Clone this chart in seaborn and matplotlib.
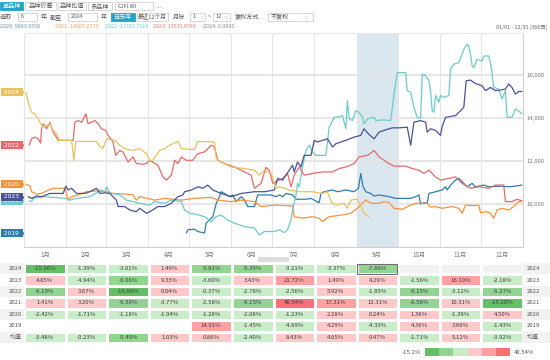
import numpy as np
import pandas as pd
import seaborn as sns
import matplotlib.pyplot as plt
from matplotlib.colors import ListedColormap
from matplotlib.patches import Rectangle
from matplotlib.transforms import blended_transform_factory

sns.set_theme(style="white")
plt.rcParams["font.family"] = ["Noto Sans CJK SC", "DejaVu Sans"]

W, H = 550, 360

## Line data: day of year / index level
day_2024 = [1.5, 3.1, 5.6, 8.0, 11.7, 13.9, 16.6, 19.0, 21.4, 23.9, 25.8, 34.9, 36.6, 38.0, 53.2,
            55.6, 57.8, 60.5, 66.6, 70.2, 73.9, 79.7, 84.9, 89.8, 92.2, 94.4, 99.5, 103.1, 106.8,
            112.9, 115.4, 125.1, 127.5, 139.7, 141.0, 144.6, 151.9, 161.7, 169.0, 172.6, 176.3,
            181.2, 184.9, 187.3, 194.6, 201.9, 211.4, 218.7, 222.4, 226.0, 229.7, 234.8, 237.0,
            239.9, 244.3, 247.3, 249.4, 253.1]
val_2024 = [15190, 14730, 14260, 14190, 13800, 13570, 13650, 13730, 13420, 13270, 12960, 12960,
            12030, 12910, 12910, 12680, 12570, 13030, 12960, 12730, 12570, 12490, 12570, 12340,
            12030, 12030, 12490, 12570, 12730, 12910, 12570, 12530, 12910, 12880, 12110, 11950,
            11720, 11650, 11570, 11340, 11570, 11420, 10730, 10800, 10650, 10570, 10570, 10490,
            10570, 10030, 9950, 10030, 9800, 10180, 10220, 9880, 9570, 9410]

day_2022 = [3.7, 5.6, 8.0, 10.5, 12.2, 12.9, 14.1, 16.6, 19.0, 21.4, 25.1, 36.1, 37.3, 39.7, 42.2,
            45.4, 47.0, 49.5, 51.9, 54.4, 56.8, 60.0, 61.7, 65.3, 67.3, 70.2, 72.6, 76.3, 80.0,
            82.4, 87.3, 89.8, 92.2, 98.2, 101.9, 104.4, 108.0, 110.5, 112.9, 115.4, 119.0, 123.8,
            127.5, 132.4, 134.8, 137.3, 139.7, 142.1, 147.0, 154.3, 161.7, 166.6, 169.0, 173.9,
            177.5, 180.0, 182.4, 189.7, 193.3, 195.8, 198.2, 201.9, 205.5, 211.6, 218.9, 226.3,
            231.2, 236.1, 242.1, 245.8, 251.9, 256.8, 260.4, 267.7, 271.4, 279.9, 284.8, 289.7,
            293.3, 297.0, 301.9, 305.5, 311.6, 316.5, 321.4, 327.5, 333.6, 340.9, 345.8, 351.9,
            353.1, 357.9, 361.6, 365.2]
val_2022 = [12730, 13030, 13110, 13030, 12830, 13500, 13730, 13500, 13800, 13340, 12960, 12960,
            13800, 13880, 13800, 14190, 13730, 13800, 13880, 13730, 13500, 13420, 13190, 12880,
            12260, 12490, 12420, 11950, 12190, 11880, 11850, 11880, 12030, 11800, 11260, 11110,
            11340, 12030, 11880, 12190, 12030, 12030, 12340, 12420, 12570, 12730, 12650, 12030,
            11880, 11720, 11490, 11340, 10730, 10960, 11700, 11570, 10960, 11190, 11420, 10800,
            11340, 11720, 11340, 11420, 11490, 11490, 11650, 11720, 11880, 12190, 12260, 12490,
            12190, 11880, 11760, 11760, 11650, 11570, 11420, 11570, 11260, 11110, 11190, 11260,
            10960, 10730, 10800, 10730, 10880, 10880, 10110, 10110, 10220, 10150]

day_2023 = [3.1, 5.6, 9.3, 12.9, 19.0, 28.7, 30.7, 32.4, 34.9, 38.5, 44.6, 48.3, 53.2, 55.6, 59.3,
            62.9, 67.8, 69.0, 73.9, 77.5, 82.4, 84.9, 89.8, 92.2, 98.2, 103.1, 108.0, 112.9, 116.5,
            117.8, 122.7, 127.5, 131.2, 134.8, 138.5, 144.6, 151.9, 159.3, 169.0, 176.3, 183.6,
            186.0, 189.7, 197.0, 198.2, 200.6, 203.1, 205.5, 210.5, 212.9, 215.3, 218.9, 222.6,
            226.3, 228.7, 236.1, 242.1, 247.0, 249.4, 253.1, 256.8, 260.4, 265.3, 270.1, 275.0,
            281.1, 283.6, 286.0, 290.9, 294.6, 295.7, 298.2, 301.9, 305.5, 306.7, 309.2, 316.5,
            320.2, 322.6, 324.3, 327.5, 331.1, 336.0, 338.5, 342.1, 345.8, 349.4, 353.1, 355.5,
            357.9, 360.4, 362.8, 365.2]
val_2023 = [10340, 10260, 10370, 10340, 10490, 10490, 10830, 10650, 10730, 10490, 10490, 10570,
            10730, 10490, 10520, 10490, 10180, 9880, 9880, 9720, 9640, 9800, 9570, 9640, 9880,
            9880, 10030, 10340, 10420, 10570, 10650, 10800, 10730, 10880, 10650, 10490, 10340,
            10490, 10570, 10570, 10650, 11190, 11110, 11800, 11490, 11950, 11720, 12260, 12260,
            12960, 12880, 12960, 13030, 12650, 12800, 12960, 13110, 13190, 13500, 13230, 13030,
            13340, 13450, 13540, 13540, 13570, 12730, 13800, 13880, 13800, 13340, 13500, 13420,
            13190, 13600, 14030, 14110, 14340, 14500, 15730, 15760, 15600, 15500, 15270, 15420,
            15270, 15300, 15340, 15580, 15420, 15110, 15230, 15230]

day_2021 = [3.9, 5.6, 6.8, 14.1, 21.4, 30.0, 33.6, 38.5, 48.3, 53.2, 55.6, 59.3, 60.5, 62.9, 70.2,
            75.1, 80.0, 84.9, 92.2, 95.8, 103.1, 108.0, 115.4, 117.8, 121.4, 125.1, 132.4, 137.3,
            141.0, 144.6, 149.4, 154.3, 161.7, 169.0, 172.6, 176.3, 183.6, 187.3, 190.9, 193.3,
            195.8, 197.0, 199.5, 200.6, 201.9, 204.3, 206.8, 209.2, 211.6, 214.1, 221.4, 222.6,
            223.8, 225.1, 227.5, 231.2, 233.6, 236.1, 237.2, 238.5, 240.9, 243.4, 245.8, 248.2,
            249.4, 251.9, 256.8, 258.0, 262.8, 269.0, 271.4, 273.8, 279.9, 281.1, 283.6, 286.0,
            288.4, 290.9, 292.1, 294.6, 297.0, 298.2, 299.4, 300.6, 301.9, 304.3, 305.5, 308.0,
            311.6, 312.9, 315.3, 318.9, 322.6, 325.0, 326.2, 327.5, 328.7, 329.9, 332.3, 336.0,
            337.2, 340.9, 342.8, 344.5, 348.2, 350.6, 353.1, 354.3, 357.9, 360.4, 364.1, 365.2]
val_2021 = [10150, 10110, 10260, 10340, 10310, 10260, 10180, 10260, 10340, 10520, 10650, 10570,
            10800, 10520, 10420, 10180, 10110, 10030, 9950, 10110, 10030, 10180, 10110, 9720, 9570,
            9540, 9410, 9180, 9410, 9490, 9260, 9110, 8950, 8880, 8570, 8720, 8720, 8800, 8670,
            8800, 9260, 9720, 10420, 10960, 10800, 11720, 12490, 12730, 12420, 12260, 12260, 12880,
            13570, 13730, 14030, 14060, 14110, 13500, 14800, 13960, 13880, 14340, 14260, 14030,
            13730, 13960, 14030, 13880, 13910, 13880, 15110, 16110, 16110, 15270, 15190, 14500,
            14030, 14000, 16040, 15960, 15730, 15270, 14340, 14260, 15040, 14730, 15040, 14960,
            15040, 16270, 16500, 16570, 17190, 17420, 17350, 16960, 16420, 16340, 16730, 16650,
            16880, 16880, 16340, 15420, 15340, 14880, 15270, 14030, 14030, 14420, 14260, 14190]

day_2020 = [1.5, 4.4, 5.6, 9.3, 12.9, 16.6, 21.4, 30.0, 32.4, 34.9, 39.7, 45.9, 53.2, 60.5, 65.3,
            75.1, 80.0, 82.4, 84.9, 95.8, 103.1, 115.4, 125.1, 137.3, 142.1, 151.9, 159.3, 169.0,
            173.9, 183.6, 197.0, 198.2, 204.3, 211.6, 216.5, 218.9, 223.8, 233.6, 239.7, 244.5,
            248.2, 250.7, 254.3, 260.4, 264.1, 267.7, 271.4, 277.5, 282.4, 287.3, 295.7, 298.2,
            301.9, 306.7, 314.0, 318.9, 321.4, 323.8, 329.9, 333.6, 334.8, 339.7, 342.1, 344.5,
            347.0, 350.6, 355.5, 359.2, 362.8, 365.2]
val_2020 = [10920, 10830, 10570, 10460, 10490, 10610, 10730, 10730, 10180, 10340, 10420, 10570,
            10610, 10570, 10490, 10460, 10420, 10180, 10340, 10180, 10260, 10180, 10260, 10310,
            10180, 10110, 10180, 10110, 9880, 9950, 9910, 9410, 9340, 9410, 9340, 9180, 9410,
            9490, 9570, 9800, 10030, 10180, 10030, 10030, 10110, 10060, 9800, 9750, 9920, 10030,
            10030, 9850, 9880, 9800, 9880, 9800, 9570, 9950, 9920, 9950, 9600, 9640, 9570, 9340,
            9720, 9800, 9720, 9880, 10110, 10110]

day_2019 = [119.0, 120.2, 125.1, 127.5, 132.4, 133.6, 136.1, 138.5, 141.0, 143.4, 144.6, 147.0,
            150.7, 153.1, 155.6, 159.3, 161.7, 164.1, 169.0, 171.4, 181.2, 184.9, 187.3, 189.7,
            192.2, 197.0, 199.5, 206.8, 210.5, 216.5, 217.8, 220.2, 226.3, 229.9, 236.1, 242.1,
            245.3, 247.0, 248.7, 250.7, 254.3, 256.8, 260.4, 267.7, 272.6, 283.6, 287.3, 289.7,
            290.9, 293.3, 295.7, 297.0, 301.9, 306.7, 309.2, 310.4, 312.9, 316.5, 318.9, 322.6,
            325.0, 328.7, 331.1, 337.2, 340.9, 350.6, 355.5, 360.4, 365.2]
val_2019 = [8650, 8800, 8830, 8720, 8650, 9110, 9260, 9410, 10030, 10340, 10570, 10490, 10340,
            10420, 10110, 10340, 10180, 9880, 9880, 10420, 10420, 10340, 10420, 10340, 10490,
            10420, 10220, 10220, 10260, 10060, 10490, 10570, 10650, 10570, 10650, 10570, 10730,
            11420, 10800, 10570, 10490, 10370, 10420, 10340, 10260, 10260, 10340, 10420, 10000,
            10060, 10030, 10490, 10570, 10650, 10800, 10650, 10880, 11110, 11190, 10960, 10800,
            10960, 10800, 10880, 10800, 10830, 10800, 10830, 10880]

series = {
    "2019": (day_2019, val_2019),
    "2020": (day_2020, val_2020),
    "2021": (day_2021, val_2021),
    "2022": (day_2022, val_2022),
    "2023": (day_2023, val_2023),
    "2024": (day_2024, val_2024),
}
year_colors = {"2024": "#e8c25e", "2022": "#e66a6c", "2020": "#f7923c",
               "2023": "#4a5394", "2021": "#6ccbc9", "2019": "#2f7dad"}

month_edges = [0, 31, 60, 91, 121, 152, 182, 213, 244, 274, 305, 335, 366]
month_labels = ["1月", "2月", "3月", "4月", "5月", "6月", "7月", "8月", "9月", "10月", "11月", "12月"]

## Monthly returns table (%)
table_rows = ["2024", "2023", "2022", "2021", "2020", "2019", "均值"]
ret_2024 = [-15.06, -1.39, -3.01, 1.49, -5.61, -5.39, -3.21, -3.37, -7.86, np.nan, np.nan, np.nan]
ret_2023 = [4.85, -4.94, -6.06, 9.33, -3.60, 3.43, 21.72, 1.49, 4.29, -1.56, 16.10, -2.18]
ret_2022 = [-6.19, 3.67, -10.68, 0.04, -0.37, -2.78, -2.56, 5.92, -1.85, -6.15, -3.12, -5.27]
ret_2021 = [1.41, 3.20, -6.50, -3.77, -2.58, -6.15, 40.54, 17.31, 12.31, -6.58, 10.31, -15.20]
ret_2020 = [-2.42, -1.71, -1.18, -1.94, -1.28, -2.08, -1.23, 2.28, 0.24, 1.38, -1.39, 4.50]
ret_2019 = [np.nan, np.nan, np.nan, np.nan, 14.91, -1.45, -4.69, 4.29, -4.33, 4.36, 3.69, -1.43]
ret_mean = [-3.48, -0.23, -5.49, 1.03, 0.86, -2.40, 8.43, 4.65, 0.47, -1.71, 5.12, -3.92]

level_colors = ["#66bf66", "#93d493", "#c9ecc9", "#ffc9c9", "#ffa1a1", "#fb7070"]
teal = "#25a3c8"

fig = plt.figure(figsize=(W / 100, H / 100), dpi=100)


def fx(x):
    return x / W


def fy(y):
    return 1 - y / H


def box(x0, y0, x1, y1, fc="white", ec="#d0d0d0"):
    fig.add_artist(Rectangle((fx(x0), fy(y1)), fx(x1 - x0), (y1 - y0) / H,
                             transform=fig.transFigure, fc=fc, ec=ec, lw=0.6))


def txt(x, y, s, color="#555555", size=4.4, ha="left"):
    fig.text(fx(x), fy(y), s, color=color, fontsize=size, ha=ha, va="center")


#%% header controls
box(0, 2, 23, 10, fc=teal, ec=teal)
txt(11.5, 6, "单品种", color="white", ha="center")
box(25, 2, 56, 10)
txt(40.5, 6, "品种价差", ha="center")
box(58, 2, 86, 10)
txt(72, 6, "品种比值", ha="center")
box(88, 2, 112, 10)
txt(100, 6, "多品种", ha="center")
box(115, 2, 153, 10)
txt(118, 6, "CJFI.WI", size=4.0)
txt(157, 6, "...", color="#999999")

txt(0, 17, "选取")
box(18, 13, 37, 21)
txt(21, 17, "6", size=4.0)
txt(41, 17, "年")
txt(50, 17, "截至")
box(68, 13, 97, 21)
txt(71, 17, "2024", size=4.0)
txt(101, 17, "年")
box(111, 13, 135, 21, fc=teal, ec=teal)
txt(123, 17, "日历年", color="white", ha="center")
box(137, 13, 168, 21)
txt(152.5, 17, "最近12个月", ha="center", size=4.1)
txt(173, 17, "月份")
box(190, 13, 205, 21)
txt(193, 17, "1", size=4.0)
txt(199, 17, "∨", color="#aaaaaa", size=3.2)
txt(208, 17, "~")
box(213, 13, 230, 21)
txt(216, 17, "12", size=4.0)
txt(224, 17, "∨", color="#aaaaaa", size=3.2)
txt(235, 17, "复权方式")
box(268, 13, 313, 21)
txt(271, 17, "不复权")
txt(304, 17, "∨", color="#aaaaaa", size=3.2)

txt(0, 27, "2020: 9883.5550", color="#6d8db3", size=3.9)
txt(55, 27, "2021: 14885.2773", color="#f4a262", size=3.9)
txt(105, 27, "2022: 11781.7324", color="#74cccb", size=3.9)
txt(153, 27, "2023: 13533.8789", color="#e67a7a", size=3.9)
txt(203, 27, "2024: 0.0000", color="#8c8c8c", size=3.9)
txt(547, 27, "01/01 - 12/31 (366日)", color="#666666", size=3.9, ha="right")

#%% line chart
ax = fig.add_axes([fx(24), fy(247), fx(499), 214 / H])
ax.axvspan(244, 274, color="#dae7ef", lw=0, zorder=0)
for e in month_edges:
    ax.axvline(e, color="#e6e6e6", lw=0.8, zorder=0.5)
for v in [10000, 12000, 14000, 16000]:
    ax.axhline(v, color="#e4e4e4", lw=1.3, zorder=0.5)

frames = [pd.DataFrame({"day": d, "value": v, "year": yr}) for yr, (d, v) in series.items()]
df = pd.concat(frames, ignore_index=True)
sns.lineplot(data=df, x="day", y="value", hue="year", palette=year_colors,
             estimator=None, sort=False, legend=False, linewidth=0.9, ax=ax)

ax.set_xlim(0, 366)
ax.set_ylim(8000, 17950)
centers = [(a + b) / 2 for a, b in zip(month_edges[:-1], month_edges[1:])]
ax.set_xticks(centers)
ax.set_xticklabels(month_labels, fontsize=4.5)
ax.yaxis.tick_right()
ax.set_yticks([10000, 12000, 14000, 16000])
ax.set_yticklabels(["10,000", "12,000", "14,000", "16,000"], fontsize=4.3)
ax.tick_params(length=0, colors="#777777", pad=2.5)
ax.set_xlabel("")
ax.set_ylabel("")
for side in ["left", "top"]:
    ax.spines[side].set_color("#e6e6e6")
for side in ["right", "bottom"]:
    ax.spines[side].set_color("#cfcfcf")
for s in ax.spines.values():
    s.set_linewidth(0.8)

# year tags on the left
trans = blended_transform_factory(ax.transAxes, ax.transData)
for yr in ["2019", "2021", "2020", "2022", "2023", "2024"]:
    y0 = series[yr][1][0]
    c = year_colors[yr]
    ax.text(-0.0245, y0, f" {yr} ", transform=trans, ha="center", va="center",
            fontsize=4.2, color="white", family="DejaVu Sans", clip_on=False,
            bbox=dict(boxstyle="square,pad=0.25", fc=c, ec="none"))
    ax.plot([-0.0035], [y0], marker=">", ms=2.6, color=c, transform=trans, clip_on=False)

# scrollbar thumb under the month labels
box(258, 257, 288, 261, fc="#dcdcdc", ec="#dcdcdc")

#%% monthly return table
mat = np.array([ret_2024, ret_2023, ret_2022, ret_2021, ret_2020, ret_2019, ret_mean])
vmin, vmax = np.nanmin(mat), np.nanmax(mat)
edges = list(np.linspace(vmin, 0, 4)[1:]) + list(np.linspace(0, vmax, 4)[1:-1])
levels = np.where(np.isnan(mat), np.nan, np.digitize(mat, edges)).astype(float)
annot = np.array([["" if np.isnan(v) else f"{v:.2f}%" for v in row] for row in mat])
cmap = ListedColormap(level_colors)

tax = fig.add_axes([fx(24), fy(343), fx(499), 80 / H])
for i in range(0, 7, 2):
    tax.add_patch(Rectangle((-0.58, i), 13.23, 1, fc="#f2f2f2", ec="none",
                            zorder=0, clip_on=False))
sns.heatmap(pd.DataFrame(levels, index=table_rows), cmap=cmap, vmin=-0.5, vmax=5.5,
            annot=annot, fmt="", cbar=False, linewidths=0.8, linecolor="white",
            xticklabels=False, yticklabels=False,
            annot_kws=dict(fontsize=4.3, color="#3c3c3c"), ax=tax)
tax.add_patch(Rectangle((8.02, 0.06), 0.96, 0.88, fill=False, ec="#6e6e6e", lw=0.8))
for i, lab in enumerate(table_rows):
    tax.text(-0.05, i + 0.5, lab, ha="right", va="center", fontsize=4.3,
             color="#555555", clip_on=False)
    tax.text(12.1, i + 0.5, lab, ha="left", va="center", fontsize=4.3,
             color="#555555", clip_on=False)
tax.set_xlabel("")
tax.set_ylabel("")

# colour legend
lax = fig.add_axes([fx(425), fy(356), fx(85), 8 / H])
sns.heatmap(np.arange(6).reshape(1, 6), cmap=cmap, vmin=-0.5, vmax=5.5, cbar=False,
            xticklabels=False, yticklabels=False, ax=lax)
txt(421, 352, f"{vmin:.1f}%", color="#555555", size=4.3, ha="right")
txt(514, 352, f"{vmax:.2f}%", color="#555555", size=4.3)

fig.savefig("out.png", dpi=100)
